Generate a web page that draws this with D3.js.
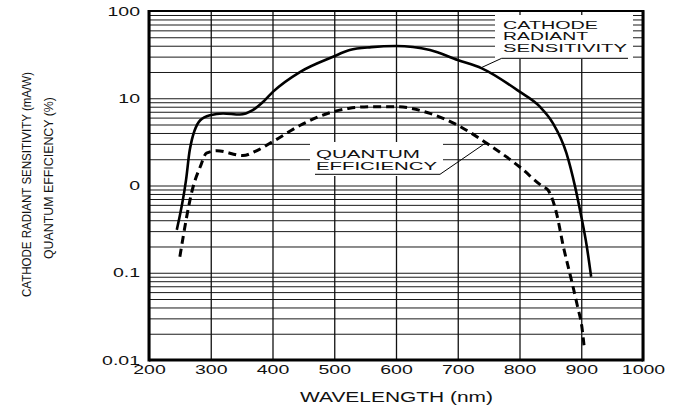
<!DOCTYPE html>
<html>
<head>
<meta charset="utf-8">
<script src="https://cdn.jsdelivr.net/npm/d3@7"></script>
<style>
  body { margin: 0; background: #fff; }
  text { font-family: "Liberation Sans", Arial, sans-serif; fill: #111; }
</style>
</head>
<body>
<div id="chart"></div>
<script>
// values
const crsWavelength = [245, 260, 266, 283, 299, 320, 347, 368, 385, 401, 445, 498, 525, 560, 600, 655, 700, 739, 800, 833, 854, 876, 890, 899, 909, 916];
const crsValues = [0.31, 1.16, 2.55, 5.6, 6.4, 6.7, 6.5, 7.3, 9.1, 11.9, 20.1, 29.9, 35.7, 38.5, 39.7, 35.7, 27.4, 22, 11.9, 8.0, 5.2, 2.35, 0.97, 0.48, 0.2, 0.09];

const qeWavelength = [250, 272, 283, 293, 310, 352, 374, 401, 445, 498, 525, 560, 600, 655, 700, 747, 800, 838, 846, 860, 871, 884, 894, 901, 905];
const qeValues = [0.153, 1.0, 1.64, 2.35, 2.5, 2.2, 2.5, 3.2, 4.9, 7.0, 7.7, 8.0, 8.0, 6.7, 4.9, 3.05, 1.64, 0.97, 0.89, 0.48, 0.2, 0.083, 0.041, 0.024, 0.0136];

const xTicks = [200, 300, 400, 500, 600, 700, 800, 900, 1000];
const yTicks = [0.01, 0.1, 1, 10, 100];
const yTickLabels = ["0.01", "0.1", "0", "10", "100"];

const W = 675, H = 406;
const plotL = 149, plotR = 643, plotT = 11, plotB = 360;

const svg = d3.select("#chart").append("svg")
    .attr("width", W)
    .attr("height", H);

const x = d3.scaleLinear().domain([200, 1000]).range([plotL, plotR]);
const y = d3.scaleLog().domain([0.01, 100]).range([plotB, plotT]);

// stretch text horizontally like the wide lettering of the original
function stretch(sel, f) {
    sel.attr("lengthAdjust", "spacingAndGlyphs")
        .attr("textLength", function () { return this.getComputedTextLength() * f; });
}

// grid
svg.append("g")
    .attr("transform", `translate(${plotL},0)`)
    .call(d3.axisLeft(y).tickValues(y.ticks()).tickSize(-(plotR - plotL)).tickFormat(""))
    .call(g => g.select(".domain").remove())
    .call(g => g.selectAll("line").attr("stroke", "#1a1a1a").attr("stroke-width", 1));

svg.append("g")
    .attr("transform", `translate(0,${plotB})`)
    .call(d3.axisBottom(x).tickValues(xTicks).tickSize(-(plotB - plotT)).tickFormat(""))
    .call(g => g.select(".domain").remove())
    .call(g => g.selectAll("line").attr("stroke", "#111").attr("stroke-width", 1.3));

// white boxes behind the curve labels
svg.append("rect").attr("x", 495).attr("y", 15).attr("width", 138).attr("height", 44).attr("fill", "#fff");
svg.append("rect").attr("x", 310).attr("y", 142).attr("width", 133).attr("height", 34).attr("fill", "#fff");

// frame
svg.append("line").attr("x1", plotL).attr("x2", plotL).attr("y1", plotT - 1).attr("y2", plotB + 1.5)
    .attr("stroke", "#000").attr("stroke-width", 3);
svg.append("line").attr("x1", plotR).attr("x2", plotR).attr("y1", plotT - 1).attr("y2", plotB + 1.5)
    .attr("stroke", "#000").attr("stroke-width", 3);
svg.append("line").attr("x1", plotL).attr("x2", plotR).attr("y1", plotT).attr("y2", plotT)
    .attr("stroke", "#000").attr("stroke-width", 2);
svg.append("line").attr("x1", plotL).attr("x2", plotR).attr("y1", plotB).attr("y2", plotB)
    .attr("stroke", "#000").attr("stroke-width", 3);

// tick labels
const xAxis = svg.append("g")
    .attr("transform", `translate(0,${plotB})`)
    .call(d3.axisBottom(x).tickValues(xTicks).tickSize(0).tickPadding(5).tickFormat(d3.format("d")));
xAxis.select(".domain").remove();
xAxis.selectAll("text").attr("font-size", 13).attr("fill", "#111")
    .style("font-family", "Liberation Sans, Arial, sans-serif").call(stretch, 1.5);

const yAxis = svg.append("g")
    .attr("transform", `translate(${plotL},0)`)
    .call(d3.axisLeft(y).tickValues(yTicks).tickSize(0).tickPadding(9)
        .tickFormat((d, i) => yTickLabels[i]));
yAxis.select(".domain").remove();
yAxis.selectAll("text").attr("font-size", 13).attr("fill", "#111")
    .style("font-family", "Liberation Sans, Arial, sans-serif").call(stretch, 1.5);

// curves
const line = d3.line()
    .x(d => x(d[0]))
    .y(d => y(d[1]))
    .curve(d3.curveMonotoneX);

svg.append("path")
    .datum(d3.zip(crsWavelength, crsValues))
    .attr("d", line)
    .attr("fill", "none")
    .attr("stroke", "#000")
    .attr("stroke-width", 2.6);

svg.append("path")
    .datum(d3.zip(qeWavelength, qeValues))
    .attr("d", line)
    .attr("fill", "none")
    .attr("stroke", "#000")
    .attr("stroke-width", 3)
    .attr("stroke-dasharray", "8,5");

// curve labels with leader lines
const cathodeLines = ["CATHODE", "RADIANT", "SENSITIVITY"];
const cathodeWidths = [95, 85, 124];
cathodeLines.forEach((t, i) => {
    svg.append("text").attr("x", 503).attr("y", 28.5 + i * 11.7)
        .attr("font-size", 11.5)
        .attr("textLength", cathodeWidths[i]).attr("lengthAdjust", "spacingAndGlyphs")
        .text(t);
});
svg.append("polyline")
    .attr("points", `628,58.3 501.7,58.3 ${x(738)},${y(22.4)}`)
    .attr("fill", "none").attr("stroke", "#000").attr("stroke-width", 1);

const qeLines = ["QUANTUM", "EFFICIENCY"];
const qeWidths = [104, 121];
qeLines.forEach((t, i) => {
    svg.append("text").attr("x", 316).attr("y", 157.5 + i * 12)
        .attr("font-size", 11.5)
        .attr("textLength", qeWidths[i]).attr("lengthAdjust", "spacingAndGlyphs")
        .text(t);
});
svg.append("polyline")
    .attr("points", `315,174.3 440,174.3 ${x(746)},${y(3.1)}`)
    .attr("fill", "none").attr("stroke", "#000").attr("stroke-width", 1);

// axis titles
svg.append("text")
    .attr("x", 300).attr("y", 401.5)
    .attr("font-size", 14)
    .attr("textLength", 193).attr("lengthAdjust", "spacingAndGlyphs")
    .text("WAVELENGTH (nm)");

svg.append("text")
    .attr("transform", "translate(30.5,184.5) rotate(-90)")
    .attr("text-anchor", "middle")
    .attr("font-size", 12)
    .attr("textLength", 225).attr("lengthAdjust", "spacingAndGlyphs")
    .text("CATHODE RADIANT SENSITIVITY (mA/W)");

svg.append("text")
    .attr("transform", "translate(52.5,178) rotate(-90)")
    .attr("text-anchor", "middle")
    .attr("font-size", 12)
    .attr("textLength", 162).attr("lengthAdjust", "spacingAndGlyphs")
    .text("QUANTUM EFFICIENCY (%)");
</script>
</body>
</html>
